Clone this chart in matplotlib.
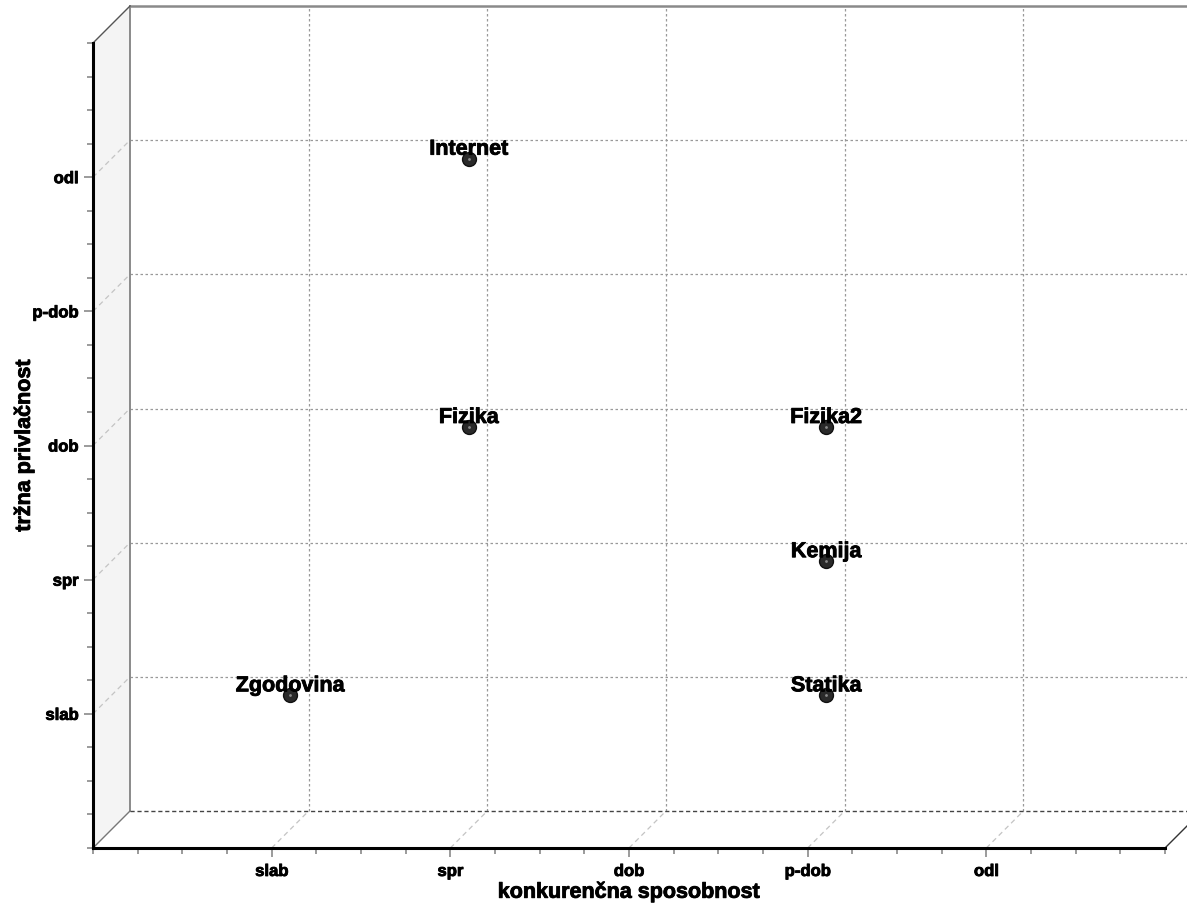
import matplotlib.pyplot as plt
import matplotlib.transforms as mtransforms
import matplotlib.patheffects as pe
from matplotlib.patches import Polygon, Rectangle
from matplotlib.ticker import MultipleLocator
import numpy as np

plt.rcParams['font.family'] = ['Liberation Sans', 'DejaVu Sans']

# ocene
levels = ["slab", "spr", "dob", "p-dob", "odl"]
names = ["Internet", "Fizika", "Fizika2", "Kemija", "Statika", "Zgodovina"]
konk = [2, 2, 4, 4, 4, 1]
priv = [5, 3, 3, 2, 1, 1]

fig = plt.figure(figsize=(11.87, 9.06), dpi=100)
ax = fig.add_axes([93 / 1187, 58 / 906, 1072 / 1187, 805 / 906])
ax.set_xlim(0, 6)
ax.set_ylim(0, 6)
ax.patch.set_visible(False)

# globina 3D ucinka
depth = 0.37
bb = ax.get_position()
dx = depth / (bb.width * fig.get_figwidth()) * 6
dy = depth / (bb.height * fig.get_figheight()) * 6
off_full = mtransforms.ScaledTranslation(depth, depth, fig.dpi_scale_trans)
off_half = mtransforms.ScaledTranslation(depth / 2, depth / 2, fig.dpi_scale_trans)

# zadnja stena
ax.add_patch(Rectangle((0, 0), 1, 1, transform=ax.transAxes + off_full,
                       fc="white", ec="none", zorder=0.4, clip_on=False))
# leva stena
ax.add_patch(Polygon([(0, 0), (0, 6), (dx, 6 + dy), (dx, dy)], closed=True,
                     fc="#f4f4f4", ec="none", zorder=0.5, clip_on=False))

ticks = np.arange(1, 6)
for t in ticks:
    # mreza na zadnji steni
    ax.plot([0, 6], [t, t], transform=ax.transData + off_full, color="#999999",
            lw=0.9, ls=(0, (2, 2)), zorder=1, clip_on=False)
    ax.plot([t, t], [0, 6], transform=ax.transData + off_full, color="#999999",
            lw=0.9, ls=(0, (2, 2)), zorder=1, clip_on=False)
    # poševne crte
    ax.plot([0, dx], [t, t + dy], color="#c4c4c4", lw=0.9, ls=(0, (4, 3)),
            zorder=1, clip_on=False)
    ax.plot([t, t + dx], [0, dy], color="#c4c4c4", lw=0.9, ls=(0, (4, 3)),
            zorder=1, clip_on=False)

# robovi
ax.plot([dx, dx], [dy, 6 + dy], color="#8a8a8a", lw=1.4, zorder=1.2, clip_on=False)
ax.plot([dx, 6 + dx], [6 + dy, 6 + dy], color="#8a8a8a", lw=1.8, zorder=1.2, clip_on=False)
ax.plot([dx, 6 + dx], [dy, dy], color="#444444", lw=1.0, ls=(0, (3, 2)),
        zorder=1.2, clip_on=False)
ax.plot([0, dx], [6, 6 + dy], color="#555555", lw=1.0, zorder=1.2, clip_on=False)
ax.plot([0, dx], [0, dy], color="#777777", lw=1.0, zorder=1.2, clip_on=False)
ax.plot([6, 6 + dx], [0, dy], color="#333333", lw=1.0, zorder=1.2, clip_on=False)

# osi
for s in ["top", "right"]:
    ax.spines[s].set_visible(False)
for s in ["left", "bottom"]:
    ax.spines[s].set_linewidth(2.2)
    ax.spines[s].set_color("black")
    ax.spines[s].set_capstyle("projecting")

heavy = [pe.withStroke(linewidth=0.6, foreground="black")]

ax.set_xticks(ticks)
ax.set_xticklabels(levels)
ax.set_yticks(ticks)
ax.set_yticklabels(levels)
ax.xaxis.set_minor_locator(MultipleLocator(0.25))
ax.yaxis.set_minor_locator(MultipleLocator(0.25))
ax.tick_params(which="major", length=6.5, width=1.1, color="#808080",
               labelsize=12, pad=5)
ax.tick_params(which="minor", length=4.3, width=1.1, color="#808080")
ax.tick_params(axis="y", which="major", pad=4)
for lab in ax.get_xticklabels() + ax.get_yticklabels():
    lab.set_fontweight("bold")
    lab.set_path_effects(heavy)

ax.set_xlabel("konkurenčna sposobnost", fontsize=15.5, fontweight="bold", va="center",
              path_effects=heavy)
ax.set_ylabel("tržna privlačnost", fontsize=15.5, fontweight="bold", va="center",
              path_effects=heavy)
ax.xaxis.set_label_coords(0.5, -0.055)
ax.yaxis.set_label_coords(-0.064, 0.5)

# tocke
ax.plot(konk, priv, ls="none", marker="o", ms=10, mfc="#2a2a2a", mec="#111111",
        mew=1.0, transform=ax.transData + off_half, zorder=3, clip_on=False)
ax.plot(konk, priv, ls="none", marker="o", ms=2, mfc="#8a8a8a", mec="none",
        transform=ax.transData + off_half, zorder=3.1, clip_on=False)

lab_tr = ax.transData + mtransforms.ScaledTranslation(depth / 2, depth / 2 + 0.04,
                                                      fig.dpi_scale_trans)
for n, x, y in zip(names, konk, priv):
    ax.text(x, y, n, transform=lab_tr, ha="center", va="baseline",
            fontsize=15.5, fontweight="bold", color="black", zorder=4,
            path_effects=heavy)

fig.savefig("out.png", dpi=100)
